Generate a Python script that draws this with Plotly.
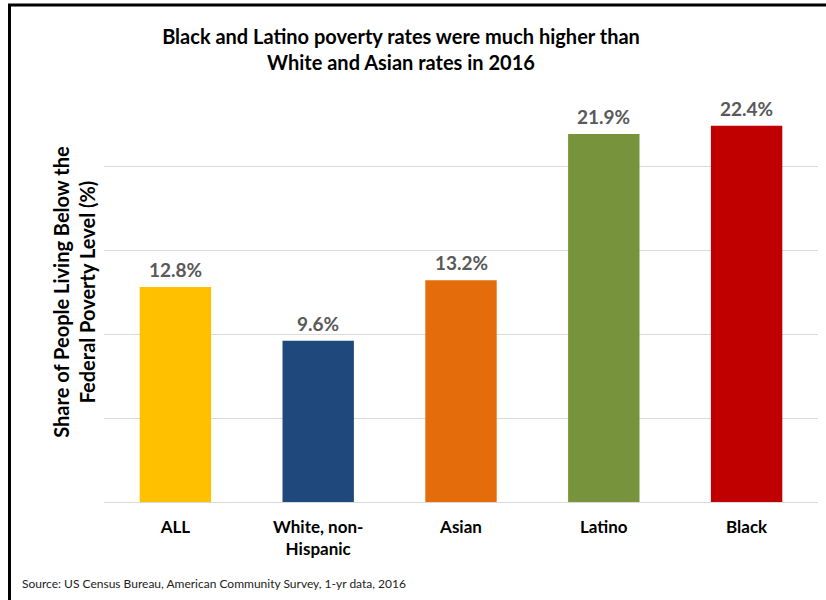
import plotly.graph_objects as go

categories = ["ALL", "White, non-<br>Hispanic", "Asian", "Latino", "Black"]
values = [12.8, 9.6, 13.2, 21.9, 22.4]
labels = ["12.8%", "9.6%", "13.2%", "21.9%", "22.4%"]
colors = ["#FFC000", "#1F497D", "#E46C0A", "#77933C", "#C00000"]

W, H = 826, 600
ml, mr, mt, mb = 104, 8, 82, 98
pw, ph = W - ml - mr, H - mt - mb

def px_x(x):
    return (x - ml) / pw

def px_y(y):
    return (H - mb - y) / ph

FONT = "Lato"

fig = go.Figure()
fig.add_trace(go.Bar(
    x=categories, y=values,
    marker=dict(color=colors, line=dict(width=0)),
    width=0.5,
    hoverinfo="skip",
))

for c, v, t in zip(categories, values, labels):
    fig.add_annotation(
        x=c, y=v, text="<b>" + t + "</b>", showarrow=False,
        yanchor="bottom", yshift=4,
        font=dict(family=FONT, size=19, color="#595959"),
    )

fig.add_annotation(
    xref="paper", yref="paper", x=px_x(20), y=px_y(583),
    xanchor="left", yanchor="middle", showarrow=False,
    text="Source: US Census Bureau, American Community Survey, 1-yr data, 2016",
    font=dict(family=FONT, size=12, color="#222222"),
)

# frame lines (left and top)
fig.add_shape(type="line", xref="paper", yref="paper",
              x0=px_x(9.5), x1=px_x(9.5), y0=px_y(4), y1=px_y(601),
              line=dict(color="black", width=3))
fig.add_shape(type="line", xref="paper", yref="paper",
              x0=px_x(8), x1=px_x(830), y0=px_y(5), y1=px_y(5),
              line=dict(color="black", width=3))

fig.update_layout(
    width=W, height=H,
    margin=dict(l=ml, r=mr, t=mt, b=mb),
    paper_bgcolor="white", plot_bgcolor="white",
    showlegend=False,
    bargap=0.5,
    title=dict(
        text="<b>Black and Latino poverty rates were much higher than<br>White and Asian rates in 2016</b>",
        x=401 / W, xanchor="center", xref="container",
        y=1 - 44 / H, yanchor="middle", yref="container",
        font=dict(family=FONT, size=20, color="black"),
    ),
    xaxis=dict(
        showgrid=False, showline=False, zeroline=False,
        tickfont=dict(family=FONT, size=17, color="black", weight="bold"),
        ticklabelstandoff=13,
        fixedrange=True,
    ),
    yaxis=dict(
        range=[0, 25], dtick=5, tick0=0,
        showticklabels=False, ticks="",
        showgrid=True, gridcolor="#D9D9D9", gridwidth=1,
        zeroline=True, zerolinecolor="#D9D9D9", zerolinewidth=1,
        title=dict(
            text="<b>Share of People Living Below the<br>Federal Poverty Level (%)</b>",
            font=dict(family=FONT, size=20, color="black"),
            standoff=2,
        ),
        fixedrange=True,
    ),
    font=dict(family=FONT),
)

fig.write_html("out.html")
